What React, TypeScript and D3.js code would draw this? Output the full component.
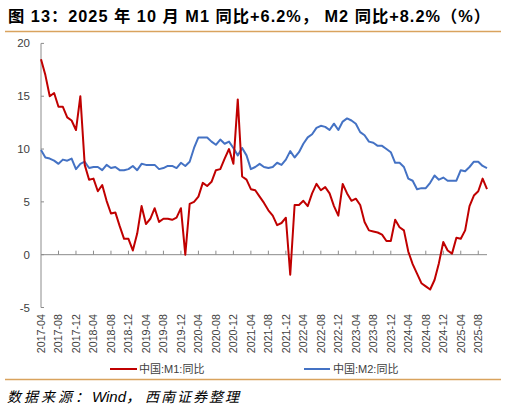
import React from "react";
import * as d3 from "d3";

// Months 2017-04 .. 2025-10
const startMonth = new Date(2017, 3, 1);
const endMonth = new Date(2025, 10, 1);
const months: string[] = d3.timeMonth.range(startMonth, endMonth).map((d) => d3.timeFormat("%Y-%m")(d));

const m1Values: number[] = [
  // 2017 Apr-Dec
  18.5, 17.0, 15.0, 15.3, 14.0, 14.0, 13.0, 12.7, 11.8,
  // 2018
  15.0, 8.5, 7.1, 7.2, 6.0, 6.6, 5.1, 3.9, 4.0, 2.7, 1.5, 1.5,
  // 2019
  0.4, 2.0, 4.6, 2.9, 3.4, 4.4, 3.1, 3.4, 3.4, 3.3, 3.5, 4.4,
  // 2020
  0.0, 4.8, 5.0, 5.5, 6.8, 6.5, 6.9, 8.0, 8.1, 9.1, 10.0, 8.6,
  // 2021
  14.7, 7.4, 7.1, 6.2, 6.1, 5.5, 4.9, 4.2, 3.7, 2.8, 3.0, 3.5,
  // 2022
  -1.9, 4.7, 4.7, 5.1, 4.6, 5.8, 6.7, 6.1, 6.4, 5.8, 4.6, 3.7,
  // 2023
  6.7, 5.8, 5.1, 5.3, 4.7, 3.1, 2.3, 2.2, 2.1, 1.9, 1.3, 1.3,
  // 2024
  3.3, 2.6, 2.3, 0.3, -0.9, -1.8, -2.7, -3.0, -3.3, -2.4, -0.8, 1.2,
  // 2025 Jan-Oct
  0.4, 0.1, 1.6, 1.5, 2.3, 4.6, 5.6, 6.0, 7.2, 6.2,
];

const m2Values: number[] = [
  // 2017 Apr-Dec
  9.9, 9.2, 9.1, 8.9, 8.6, 9.0, 8.9, 9.1, 8.1,
  // 2018
  8.6, 8.8, 8.2, 8.3, 8.3, 8.0, 8.5, 8.2, 8.3, 8.0, 8.0, 8.1,
  // 2019
  8.4, 8.0, 8.6, 8.5, 8.5, 8.5, 8.1, 8.2, 8.4, 8.4, 8.2, 8.7,
  // 2020
  8.4, 8.8, 10.1, 11.1, 11.1, 11.1, 10.7, 10.4, 10.9, 10.5, 10.7, 10.1,
  // 2021
  9.4, 10.1, 9.4, 8.1, 8.3, 8.6, 8.3, 8.2, 8.3, 8.7, 8.5, 9.0,
  // 2022
  9.8, 9.2, 9.7, 10.5, 11.1, 11.4, 12.0, 12.2, 12.1, 11.8, 12.4, 11.8,
  // 2023
  12.6, 12.9, 12.7, 12.4, 11.6, 11.3, 10.7, 10.6, 10.3, 10.3, 10.0, 9.7,
  // 2024
  8.7, 8.7, 8.3, 7.2, 7.0, 6.2, 6.3, 6.3, 6.8, 7.5, 7.1, 7.3,
  // 2025 Jan-Oct
  7.0, 7.0, 7.0, 8.0, 7.9, 8.3, 8.8, 8.8, 8.4, 8.2,
];

const yTicks: number[] = [-5, 0, 5, 10, 15, 20];
const tickLabels: string[] = months.filter((_, i) => i % 4 === 0);

const seriesNames: string[] = ["中国:M1:同比", "中国:M2:同比"];
const titleText = "图 13：2025 年 10 月 M1 同比+6.2%， M2 同比+8.2%（%）";
const sourceParts: string[] = ["数据来源：", "Wind，", "西南证券整理"];

const W = 507;
const H = 411;
const RED = "#C00000";
const BLUE = "#4472C4";
const AXIS = "#8C8C8C";
const RULE = "#D9A35E";

export default function App() {
  const x = d3.scalePoint<string>().domain(months).range([41, 487]);
  const y = d3.scaleLinear().domain([-5, 20]).range([307.5, 43.4]);

  const line = d3
    .line<number>()
    .x((_, i) => x(months[i]) as number)
    .y((d) => y(d));

  const m1Path = line(m1Values) || "";
  const m2Path = line(m2Values) || "";

  const latin = "'Liberation Sans', Arial, 'Noto Sans CJK SC', sans-serif";

  return (
    <svg
      width={W}
      height={H}
      viewBox={`0 0 ${W} ${H}`}
      style={{ position: "absolute", left: 0, top: 0, background: "#fff" }}
    >
      <rect x={0} y={0} width={W} height={H} fill="#fff" />
      {/* Title */}
      <text
        x={8}
        y={22}
        fontSize={16.3}
        fontWeight="bold"
        fill="#000"
        fontFamily={latin}
        textLength={482}
        lengthAdjust="spacing"
      >
        {titleText}
      </text>
      <line x1={5} x2={501} y1={31.5} y2={31.5} stroke={RULE} strokeWidth={1.5} />

      {/* Y axis */}
      <line x1={41} x2={41} y1={y(20)} y2={y(-5)} stroke={AXIS} strokeWidth={1} />
      {yTicks.map((t) => (
        <g key={t}>
          <line x1={41} x2={44} y1={y(t)} y2={y(t)} stroke={AXIS} strokeWidth={1} />
          <text
            x={30}
            y={y(t)}
            dy="0.35em"
            textAnchor="end"
            fontSize={11.5}
            fill="#404040"
            fontFamily={latin}
          >
            {t}
          </text>
        </g>
      ))}

      {/* X axis at zero */}
      <line x1={41} x2={487} y1={y(0)} y2={y(0)} stroke={AXIS} strokeWidth={1} />
      {tickLabels.map((m, k) =>
        k === 0 ? null : (
          <line
            key={"t" + m}
            x1={x(m) as number}
            x2={x(m) as number}
            y1={y(0)}
            y2={y(0) - 4}
            stroke={AXIS}
            strokeWidth={1}
          />
        )
      )}
      {tickLabels.map((m) => (
        <text
          key={"l" + m}
          transform={`translate(${x(m) as number},314) rotate(-90)`}
          dy="0.35em"
          textAnchor="end"
          fontSize={10.7}
          fill="#404040"
          fontFamily={latin}
        >
          {m}
        </text>
      ))}

      {/* Series */}
      <path d={m2Path} fill="none" stroke={BLUE} strokeWidth={2} strokeLinejoin="round" />
      <path d={m1Path} fill="none" stroke={RED} strokeWidth={2} strokeLinejoin="round" />

      {/* Legend */}
      <line x1={110} x2={137} y1={369} y2={369} stroke={RED} strokeWidth={2} />
      <text x={139} y={369} dy="0.35em" fontSize={11} fill="#404040" fontFamily={latin}>
        {seriesNames[0]}
      </text>
      <line x1={304} x2={330} y1={369} y2={369} stroke={BLUE} strokeWidth={2} />
      <text x={333} y={369} dy="0.35em" fontSize={11} fill="#404040" fontFamily={latin}>
        {seriesNames[1]}
      </text>

      <line x1={5} x2={501} y1={379.5} y2={379.5} stroke={RULE} strokeWidth={1.5} />

      {/* Source */}
      <text y={402} fontSize={14} fontStyle="italic" fill="#000" fontFamily={latin}>
        <tspan x={7} letterSpacing={3}>{sourceParts[0]}</tspan>
        <tspan x={92} fontSize={15}>{sourceParts[1]}</tspan>
        <tspan x={145} letterSpacing={2}>{sourceParts[2]}</tspan>
      </text>
    </svg>
  );
}
